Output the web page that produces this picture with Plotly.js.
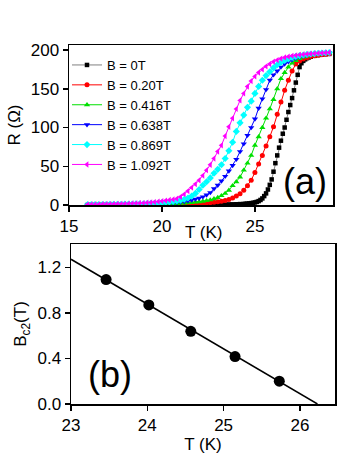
<!DOCTYPE html>
<html>
<head>
<meta charset="utf-8">
<script src="https://cdn.plot.ly/plotly-3.0.1.min.js"></script>
<style>html,body{margin:0;padding:0;background:#fff;}#chart{width:353px;height:457px;}</style>
</head>
<body>
<div id="chart"></div>
<script>
// ---- Panel (a): R(T) at several fields ----
const T_grid = [16.0,16.2,16.4,16.6,16.8,17.0,17.2,17.4,17.6,17.8,18.0,18.2,18.4,18.6,18.8,19.0,19.2,19.4,19.6,19.8,
  20.0,20.2,20.4,20.6,20.8,21.0,21.2,21.4,21.6,21.8,22.0,22.2,22.4,22.6,22.8,23.0,23.2,23.4,23.6,23.8,
  24.0,24.2,24.4,24.6,24.8,25.0,25.2,25.4,25.6,25.8,26.0,26.2,26.4,26.6,26.8,27.0,27.2,27.4,27.6,27.8,
  28.0,28.2,28.4,28.6,28.8,29.0];

const T_B0 = [16.0,16.2,16.4,16.6,16.8,17.0,17.2,17.4,17.6,17.8,18.0,18.2,18.4,18.6,18.8,19.0,19.2,19.4,19.6,19.8,
  20.0,20.2,20.4,20.6,20.8,21.0,21.2,21.4,21.6,21.8,22.0,22.2,22.4,22.6,22.8,23.0,23.2,23.4,23.6,23.8,
  24.0,24.2,24.4,
  24.5,24.6,24.7,24.8,24.9,25.0,25.1,25.2,25.3,25.4,25.5,25.6,25.7,25.8,25.9,26.0,26.1,26.2,26.3,26.4,
  26.5,26.6,26.7,26.8,26.9,27.0,27.1,27.2,27.3,27.4,27.5,27.6,27.7,27.8,27.9,28.0,
  28.2,28.4,28.6,28.8,29.0];

const R_B0 = [0,0,0,0,0, 0,0,0,0,0, 0,0,0,0,0, 0,0,0,0,0,
  0.1,0.1,0.1,0.15,0.15, 0.2,0.2,0.25,0.25,0.3, 0.3,0.35,0.4,0.45,0.5, 0.55,0.6,0.7,0.8,0.9, 1.0,1.2,1.4,
  1.6,1.8,2.1,2.4,2.8, 3.3,4.0,5.0,6.5,8.5, 11.5,15,20,26,33, 43,54,64,74,83,
  92,100,110,120,129, 138,148,158,168,178, 183,186,188,189.5,190.5, 191.3,
  192.5,193.4,194.1,194.6,195.0];

const R_B020 = [0.05,0.1,0.1,0.15,0.2, 0.2,0.25,0.3,0.3,0.35, 0.4,0.4,0.45,0.5,0.55, 0.6,0.65,0.7,0.75,0.8,
  0.85,0.9,0.95,1.0,1.1, 1.2,1.3,1.45,1.6,1.8, 2.0,2.3,2.6,3.0,3.5, 4.1,4.9,5.9,7.2,9,
  11.5,14.5,19,25,32, 42,53,64,76,88, 101,117,133,148,161, 173,182,186,188.5,190.2,
  191.5,192.5,193.3,194,194.6, 195.1];

const R_B0416 = [0.1,0.15,0.2,0.25,0.3, 0.35,0.4,0.45,0.5,0.55, 0.6,0.65,0.7,0.75,0.8, 0.85,0.9,0.95,1.0,1.05,
  1.1,1.3,1.5,1.7,1.9, 2.1,2.4,2.8,3.2,3.6, 4.1,4.8,5.6,6.6,8.0, 9.6,12,15,19,25,
  30,36,45,54,64, 77,88,100,112,124, 136,150,163,171,178, 183,186.5,189,191,192.3,
  193.3,194.1,194.7,195.2,195.6, 196.0];

const R_B0638 = [0.3,0.35,0.4,0.45,0.5, 0.55,0.6,0.65,0.7,0.8, 0.85,0.9,1.0,1.1,1.2, 1.3,1.4,1.55,1.7,1.85,
  2.0,2.3,2.6,3.0,3.4, 4.0,4.6,5.4,6.3,7.5, 8.8,10.5,13,16,21, 25.5,31,37,44,51,
  59,69,79,90,100, 111,125,137,149,161, 168,173,178,182,185, 187.5,189.5,191,192.2,193.2,
  194,194.6,195.1,195.5,195.9, 196.2];

const R_B0869 = [0.4,0.45,0.5,0.55,0.6, 0.7,0.75,0.8,0.9,1.0, 1.1,1.2,1.3,1.4,1.5, 1.6,1.8,2.0,2.3,2.6,
  3.0,3.5,4.0,4.6,5.3, 6.2,7.4,9,11.5,15, 20,25.5,30,35,41, 46,52,60,70,81,
  95,106,116,126,134, 144,153,161,167,172, 177,181,184,186.5,188.5, 190.5,191.8,192.8,193.6,194.3,
  194.9,195.4,195.8,196.2,196.5, 196.8];

const R_B1092 = [0.5,0.6,0.7,0.8,0.9, 1.0,1.1,1.2,1.3,1.4, 1.5,1.7,1.9,2.1,2.3, 2.5,2.9,3.3,3.8,4.4,
  5.0,5.7,6.5,7.2,8.2, 10.5,14,18,22.5,27, 32,38,45,52,60, 69,77,89,101,112,
  124,135,144,153,160, 166,171,175,179,182, 185,187,189,190.5,191.5, 192.5,193.2,193.8,194.3,194.8,
  195.2,195.6,195.9,196.2,196.5, 196.8];

const seriesNames = ['B = 0T','B = 0.20T','B = 0.416T','B = 0.638T','B = 0.869T','B = 1.092T'];

// ---- Panel (b): Bc2(T) ----
const Tc = [23.46, 24.02, 24.57, 25.15, 25.73];
const Bc2 = [1.092, 0.869, 0.638, 0.416, 0.20];
const fitT = [23.0, 26.23];
const fitB = [1.27, 0.0];

const W = 353, H = 457;
const fam = 'Liberation Sans, Arial, sans-serif';

function rt(name, xs, ys, color, lineColor, symbol, size) {
  return {
    type: 'scatter', mode: 'lines+markers', name: name, x: xs, y: ys,
    xaxis: 'x', yaxis: 'y',
    line: {color: lineColor, width: 1},
    marker: {color: color, symbol: symbol, size: size},
    hoverinfo: 'skip'
  };
}

const traces = [
  rt(seriesNames[0], T_B0, R_B0, '#000000', '#808080', 'square', 4.5),
  rt(seriesNames[1], T_grid, R_B020, '#ff0000', '#ff0000', 'circle', 5),
  rt(seriesNames[2], T_grid, R_B0416, '#00e000', '#00e000', 'triangle-up', 5.5),
  rt(seriesNames[3], T_grid, R_B0638, '#0000ff', '#0000ff', 'triangle-down', 5.5),
  rt(seriesNames[4], T_grid, R_B0869, '#00ffff', '#00ffff', 'diamond', 5.5),
  rt(seriesNames[5], T_grid, R_B1092, '#ff00ff', '#ff00ff', 'triangle-left', 5.5),
  {type: 'scatter', mode: 'lines', x: fitT, y: fitB, xaxis: 'x2', yaxis: 'y2',
   line: {color: '#000', width: 1.5}, showlegend: false, hoverinfo: 'skip'},
  {type: 'scatter', mode: 'markers', x: Tc, y: Bc2, xaxis: 'x2', yaxis: 'y2',
   marker: {color: '#000', size: 11, symbol: 'circle'}, showlegend: false, hoverinfo: 'skip'}
];

const axBase = {
  showline: true, mirror: true, linecolor: '#000', linewidth: 1.5,
  ticks: 'outside', ticklen: 5, tickwidth: 1.5, tickcolor: '#000',
  showgrid: false, zeroline: false, automargin: false,
  tickfont: {family: fam, size: 17, color: '#000'}
};

const layout = {
  width: W, height: H,
  margin: {l: 0, r: 0, t: 0, b: 0},
  paper_bgcolor: '#fff', plot_bgcolor: '#fff',
  font: {family: fam, size: 17, color: '#000'},
  showlegend: true,
  legend: {x: 67/W, y: 1 - 50/H, xanchor: 'left', yanchor: 'top', bgcolor: 'rgba(0,0,0,0)',
           font: {family: fam, size: 13, color: '#000'}, tracegroupgap: 0, borderwidth: 0},
  xaxis: Object.assign({}, axBase, {
    domain: [69/W, 333/W], range: [15, 29.2], tick0: 15, dtick: 5, anchor: 'y'
  }),
  yaxis: Object.assign({}, axBase, {
    domain: [1 - 205/H, 1 - 45/H], range: [0, 206.5], tick0: 0, dtick: 50, anchor: 'x',
    title: {text: 'R (Ω)', standoff: 6, font: {family: fam, size: 17}}
  }),
  xaxis2: Object.assign({}, axBase, {
    domain: [71/W, 335/W], range: [23, 26.46], tick0: 23, dtick: 1, anchor: 'y2',
    title: {text: 'T (K)', standoff: 0, font: {family: fam, size: 17}}
  }),
  yaxis2: Object.assign({}, axBase, {
    domain: [1 - 404/H, 1 - 244/H], range: [0, 1.404], tick0: 0, dtick: 0.4, tickformat: '.1f', anchor: 'x2',
    title: {text: 'B<sub>c2</sub>(T)', standoff: 6, font: {family: fam, size: 17}}
  }),
  annotations: [
    {text: 'T (K)', xref: 'paper', yref: 'paper', x: 203/W, y: 1 - 232/H, xanchor: 'center', yanchor: 'middle',
     showarrow: false, font: {family: fam, size: 17, color: '#000'}},
    {text: '(a)', xref: 'paper', yref: 'paper', x: 305/W, y: 1 - 181/H, xanchor: 'center', yanchor: 'middle',
     showarrow: false, font: {family: fam, size: 36, color: '#000'}},
    {text: '(b)', xref: 'paper', yref: 'paper', x: 110/W, y: 1 - 374/H, xanchor: 'center', yanchor: 'middle',
     showarrow: false, font: {family: fam, size: 36, color: '#000'}}
  ]
};

Plotly.newPlot('chart', traces, layout, {displayModeBar: false, staticPlot: true});
</script>
</body>
</html>
